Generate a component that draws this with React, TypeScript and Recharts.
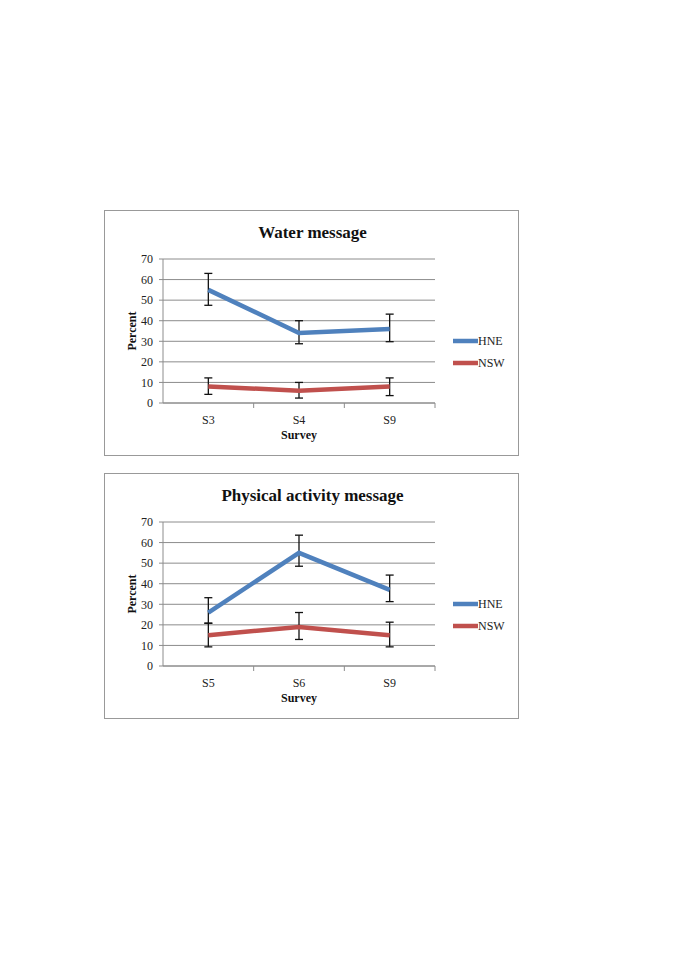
import React from "react";
import {
  CartesianGrid,
  ErrorBar,
  Legend,
  Line,
  LineChart,
  XAxis,
  YAxis,
} from "recharts";

const WATER_SURVEYS = ["S3", "S4", "S9"];
const WATER_HNE = [55, 34, 36];
const WATER_HNE_LOW = [47.5, 28.8, 29.8];
const WATER_HNE_HIGH = [63, 40, 43.2];
const WATER_NSW = [8, 6, 8];
const WATER_NSW_LOW = [4.2, 2.4, 3.6];
const WATER_NSW_HIGH = [12.2, 10, 12.2];

const ACTIVITY_SURVEYS = ["S5", "S6", "S9"];
const ACTIVITY_HNE = [26, 55, 37];
const ACTIVITY_HNE_LOW = [20.8, 48.5, 31.3];
const ACTIVITY_HNE_HIGH = [33.2, 63.6, 44.2];
const ACTIVITY_NSW = [15, 19, 15];
const ACTIVITY_NSW_LOW = [9.3, 12.9, 9.3];
const ACTIVITY_NSW_HIGH = [20.8, 26, 21.3];

const Y_TICKS = [0, 10, 20, 30, 40, 50, 60, 70];

const FONT = '"Liberation Serif", "Times New Roman", serif';
const BLUE = "#4f81bd";
const RED = "#c0504d";
const GRID = "#8c8c8c";

const BOX_W = 415;
const PLOT_LEFT = 58;
const PLOT_RIGHT = 85;
const BAND = (BOX_W - PLOT_LEFT - PLOT_RIGHT) / 3;

function buildRows(
  surveys: string[],
  hne: number[],
  hneLow: number[],
  hneHigh: number[],
  nsw: number[],
  nswLow: number[],
  nswHigh: number[],
) {
  return surveys.map((s, i) => ({
    survey: s,
    HNE: hne[i],
    hneErr: [hne[i] - hneLow[i], hneHigh[i] - hne[i]],
    NSW: nsw[i],
    nswErr: [nsw[i] - nswLow[i], nswHigh[i] - nsw[i]],
  }));
}

// category labels sit mid-band, tick marks go on the band edges (Excel style)
function SurveyTick(props: any) {
  const { x, y, payload, index, visibleTicksCount } = props;
  const axisY = y - 12;
  const isLast = index === visibleTicksCount - 1;
  return (
    <g>
      {index > 0 && (
        <line x1={x - BAND / 2} x2={x - BAND / 2} y1={axisY} y2={axisY + 5} stroke={GRID} />
      )}
      {isLast && (
        <line x1={x + BAND / 2} x2={x + BAND / 2} y1={axisY} y2={axisY + 5} stroke={GRID} />
      )}
      <text x={x} y={y} dy="0.71em" textAnchor="middle" fontSize={12} fontFamily={FONT} fill="#222">
        {payload.value}
      </text>
    </g>
  );
}

function LegendBox({ payload }: any) {
  return (
    <div style={{ fontFamily: FONT, fontSize: 12, color: "#222" }}>
      {(payload || []).map((p: any) => (
        <div key={p.value} style={{ display: "flex", alignItems: "center", height: 22 }}>
          <svg width={25} height={6} style={{ display: "block" }}>
            <line x1={0} x2={25} y1={3} y2={3} stroke={p.color} strokeWidth={4.5} strokeLinecap="round" />
          </svg>
          <span>{p.value}</span>
        </div>
      ))}
    </div>
  );
}

function SurveyChart({
  title,
  rows,
  top,
}: {
  title: string;
  rows: Array<Record<string, unknown>>;
  top: number;
}) {
  return (
    <div
      style={{
        position: "absolute",
        left: 104,
        top,
        width: BOX_W,
        height: 246,
        border: "1px solid #999",
        boxSizing: "border-box",
        background: "#fff",
      }}
    >
      <div
        style={{
          position: "absolute",
          left: 0,
          top: 12,
          width: BOX_W,
          textAlign: "center",
          fontFamily: FONT,
          fontWeight: "bold",
          fontSize: 17,
          color: "#111",
        }}
      >
        {title}
      </div>
      <LineChart
        width={BOX_W}
        height={246}
        data={rows}
        margin={{ top: 48, right: PLOT_RIGHT, bottom: 0, left: 0 }}
      >
        <CartesianGrid vertical={false} stroke={GRID} strokeWidth={1} />
        <XAxis
          dataKey="survey"
          height={54}
          padding={{ left: BAND / 2, right: BAND / 2 }}
          axisLine={{ stroke: GRID }}
          tickLine={false}
          tickSize={6}
          tickMargin={6}
          tick={<SurveyTick />}
          label={{
            content: ({ viewBox }: any) => (
              <text
                x={viewBox.x + viewBox.width / 2}
                y={viewBox.y + 36}
                textAnchor="middle"
                fontFamily={FONT}
                fontWeight="bold"
                fontSize={12}
                fill="#111"
              >
                Survey
              </text>
            ),
          }}
        />
        <YAxis
          width={PLOT_LEFT}
          domain={[0, 70]}
          ticks={Y_TICKS}
          interval={0}
          axisLine={{ stroke: GRID }}
          tickLine={{ stroke: GRID }}
          tickSize={4}
          tickMargin={6}
          tick={{ fontSize: 12, fontFamily: FONT, fill: "#222" }}
          label={{
            content: ({ viewBox }: any) => {
              const cx = viewBox.x + 27;
              const cy = viewBox.y + viewBox.height / 2;
              return (
                <text
                  x={cx}
                  y={cy}
                  transform={`rotate(-90 ${cx} ${cy})`}
                  textAnchor="middle"
                  dominantBaseline="central"
                  fontFamily={FONT}
                  fontWeight="bold"
                  fontSize={12}
                  fill="#111"
                >
                  Percent
                </text>
              );
            },
          }}
        />
        <Legend
          layout="horizontal"
          verticalAlign="middle"
          align="center"
          content={<LegendBox />}
          wrapperStyle={{ position: "absolute", left: 348, top: 119, width: 60 }}
        />
        <Line
          type="linear"
          dataKey="HNE"
          stroke={BLUE}
          strokeWidth={4.5}
          dot={false}
          activeDot={false}
          isAnimationActive={false}
        >
          <ErrorBar dataKey="hneErr" width={4} stroke="#111" strokeWidth={1.3} isAnimationActive={false} />
        </Line>
        <Line
          type="linear"
          dataKey="NSW"
          stroke={RED}
          strokeWidth={4.5}
          dot={false}
          activeDot={false}
          isAnimationActive={false}
        >
          <ErrorBar dataKey="nswErr" width={4} stroke="#111" strokeWidth={1.3} isAnimationActive={false} />
        </Line>
      </LineChart>
    </div>
  );
}

const waterRows = buildRows(
  WATER_SURVEYS,
  WATER_HNE,
  WATER_HNE_LOW,
  WATER_HNE_HIGH,
  WATER_NSW,
  WATER_NSW_LOW,
  WATER_NSW_HIGH,
);

const activityRows = buildRows(
  ACTIVITY_SURVEYS,
  ACTIVITY_HNE,
  ACTIVITY_HNE_LOW,
  ACTIVITY_HNE_HIGH,
  ACTIVITY_NSW,
  ACTIVITY_NSW_LOW,
  ACTIVITY_NSW_HIGH,
);

export default function App() {
  return (
    <div
      style={{
        position: "absolute",
        left: 0,
        top: 0,
        width: 685,
        height: 969,
        background: "#fff",
      }}
    >
      <SurveyChart title="Water message" rows={waterRows} top={210} />
      <SurveyChart title="Physical activity message" rows={activityRows} top={473} />
    </div>
  );
}
